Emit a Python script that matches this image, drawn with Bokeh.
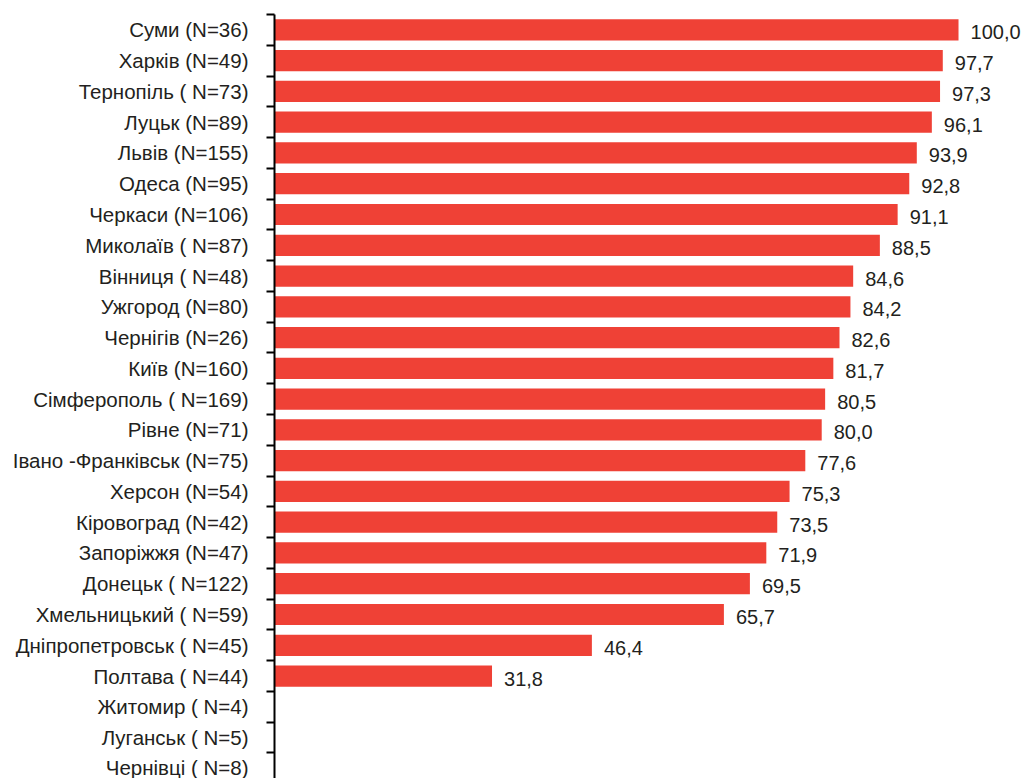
from bokeh.plotting import figure
from bokeh.models import ColumnDataSource, Range1d, FixedTicker
from bokeh.core.properties import value
from bokeh.embed import file_html
from bokeh.resources import INLINE

# Cities with sample sizes, top to bottom
cities = [
    "Суми (N=36)", "Харків (N=49)", "Тернопіль ( N=73)", "Луцьк (N=89)",
    "Львів (N=155)", "Одеса (N=95)", "Черкаси (N=106)", "Миколаїв ( N=87)",
    "Вінниця ( N=48)", "Ужгород (N=80)", "Чернігів (N=26)", "Київ (N=160)",
    "Сімферополь ( N=169)", "Рівне (N=71)", "Івано -Франківськ (N=75)",
    "Херсон (N=54)", "Кіровоград (N=42)", "Запоріжжя (N=47)",
    "Донецьк ( N=122)", "Хмельницький ( N=59)", "Дніпропетровськ ( N=45)",
    "Полтава ( N=44)", "Житомир ( N=4)", "Луганськ ( N=5)", "Чернівці ( N=8)",
]
# Percentages; the last three cities have no value
shares = [
    100.0, 97.7, 97.3, 96.1, 93.9, 92.8, 91.1, 88.5, 84.6, 84.2, 82.6, 81.7,
    80.5, 80.0, 77.6, 75.3, 73.5, 71.9, 69.5, 65.7, 46.4, 31.8,
]

FONT = "Liberation Sans"
TEXT_COLOR = "#231f20"
BAR_COLOR = "#ef4136"

n = len(cities)
ypos = [n - 1 - i for i in range(n)]          # first city at the top
bar_y = ypos[:len(shares)]
labels = [f"{v:.1f}".replace(".", ",") for v in shares]

src = ColumnDataSource(dict(y=bar_y, v=shares, lbl=labels))

p = figure(
    width=1023, height=778,
    x_range=Range1d(0, 109.5),
    y_range=Range1d(-0.33, n - 0.5),
    output_backend="svg", toolbar_location=None,
    min_border_left=274, min_border_right=0,
    min_border_top=14, min_border_bottom=0,
    x_axis_location=None,
)
p.outline_line_color = None
p.grid.visible = False
p.background_fill_color = "white"
p.border_fill_color = "white"

p.hbar(y="y", left=0, right="v", height=0.69, source=src,
       fill_color=BAR_COLOR, line_color=None)

p.text(x="v", y="y", text="lbl", source=src,
       x_offset=12, y_offset=2.5,
       text_align="left", text_baseline="middle",
       text_font=value(FONT), text_font_size="20px", text_color=TEXT_COLOR)

# Category names at the centres, tick marks on the boundaries between them
yax = p.yaxis[0]
yax.ticker = FixedTicker(ticks=ypos,
                         minor_ticks=[k + 0.5 for k in range(-1, n)])
yax.major_label_overrides = {y: c for y, c in zip(ypos, cities)}
yax.major_tick_out = 0
yax.major_tick_in = 0
yax.minor_tick_out = 8
yax.minor_tick_in = 0
yax.minor_tick_line_width = 2
yax.minor_tick_line_color = "black"
yax.axis_line_width = 2
yax.axis_line_color = "black"
yax.major_label_standoff = 18
yax.major_label_text_font = FONT
yax.major_label_text_font_size = "20.5px"
yax.major_label_text_color = TEXT_COLOR
yax.major_label_text_font_style = "normal"

open("out.html", "w").write(file_html(p, INLINE))
